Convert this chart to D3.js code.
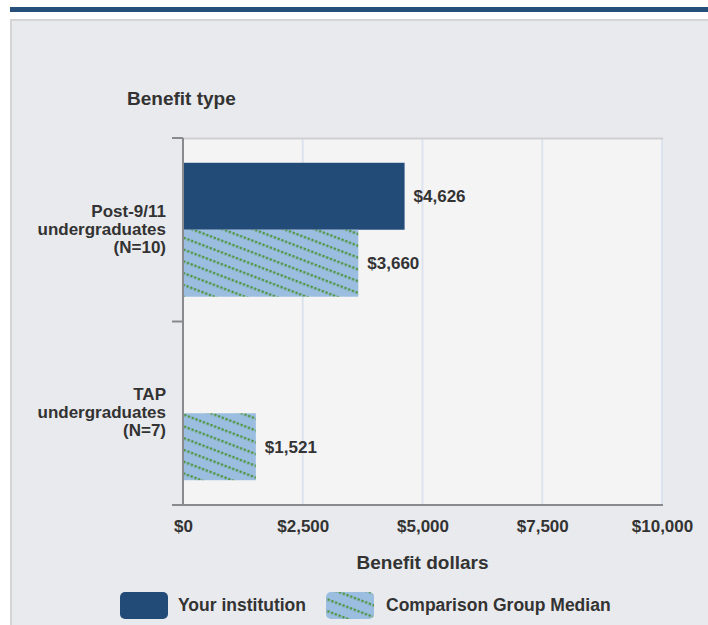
<!DOCTYPE html>
<html><head><meta charset="utf-8">
<script src="https://cdn.jsdelivr.net/npm/d3@7"></script>
<style>
html,body{margin:0;padding:0;background:#fff;}
svg{display:block;font-family:"Liberation Sans",Arial,sans-serif;}
</style></head>
<body>
<svg id="c" width="708" height="625"></svg>
<script>
const categories = ["Post-9/11 undergraduates (N=10)", "TAP undergraduates (N=7)"];
const categoryLines = [["Post-9/11","undergraduates","(N=10)"],["TAP","undergraduates","(N=7)"]];
const seriesNames = ["Your institution", "Comparison Group Median"];
const yourInstitution = [4626, null];
const comparisonMedian = [3660, 1521];
const xTicks = [0, 2500, 5000, 7500, 10000];

(function(){
const svg = d3.select("#c");
const defs = svg.append("defs");
const pat = defs.append("pattern").attr("id","hatch").attr("patternUnits","userSpaceOnUse")
  .attr("width",4).attr("height",11).attr("patternTransform","rotate(21)");
pat.append("rect").attr("width",4).attr("height",11).attr("fill","#9bbde0");
pat.append("rect").attr("x",0.6).attr("y",1).attr("width",2.2).attr("height",2.4).attr("fill","#4a9338");

// top bar
svg.append("rect").attr("x",10).attr("y",7).attr("width",698).attr("height",5).attr("fill","#264f79");
// panel
svg.append("rect").attr("x",10).attr("y",19).attr("width",700).attr("height",610).attr("fill","#e9eaee");
svg.append("rect").attr("x",10).attr("y",19).attr("width",700).attr("height",2).attr("fill","#d5d5d6");
svg.append("rect").attr("x",10).attr("y",19).attr("width",2).attr("height",610).attr("fill","#d5d5d6");

const pL = 183, pR = 662, pT = 138, pB = 505;
const x = d3.scaleLinear().domain([0,10000]).range([pL,pR]);
const y = d3.scaleBand().domain(categories).range([pT,pB]);
const inner = d3.scaleBand().domain(seriesNames).range([y.bandwidth()*0.135, y.bandwidth()*0.865]);

// plot bg
svg.append("rect").attr("x",pL).attr("y",pT).attr("width",pR-pL).attr("height",pB-pT).attr("fill","#f4f4f5");
// grid
svg.append("g").selectAll("line").data(xTicks.slice(1)).join("line")
  .attr("x1",d=>x(d)).attr("x2",d=>x(d)).attr("y1",pT).attr("y2",pB)
  .attr("stroke","#dde3ee").attr("stroke-width",2);
svg.append("line").attr("x1",pL).attr("x2",pR+1).attr("y1",pT+0.5).attr("y2",pT+0.5).attr("stroke","#cfcfd2").attr("stroke-width",2);

const data = [];
categories.forEach((c,i)=>{
  data.push({cat:c, s:seriesNames[0], v:yourInstitution[i]});
  data.push({cat:c, s:seriesNames[1], v:comparisonMedian[i]});
});
const valid = data.filter(d=>d.v!=null);
svg.append("g").selectAll("rect").data(valid).join("rect")
  .attr("x",x(0)).attr("y",d=>y(d.cat)+inner(d.s))
  .attr("width",d=>x(d.v)-x(0)).attr("height",inner.bandwidth())
  .attr("fill",d=>d.s===seriesNames[0]?"#234b77":"url(#hatch)");
svg.append("g").selectAll("text").data(valid).join("text")
  .attr("x",d=>x(d.v)+9).attr("y",d=>y(d.cat)+inner(d.s)+inner.bandwidth()/2)
  .attr("dy","0.35em").attr("font-size",17).attr("font-weight","bold").attr("fill","#333")
  .text(d=>"$"+d3.format(",")(d.v));

// axes
const xAxis = svg.append("g").attr("transform",`translate(0,${pB})`)
  .call(d3.axisBottom(x).tickValues(xTicks).tickSize(0).tickPadding(15).tickFormat(d=>"$"+d3.format(",")(d)));
xAxis.select(".domain").remove();
xAxis.append("line").attr("x1",172).attr("x2",pR+1).attr("y1",0).attr("y2",0).attr("stroke","#8a8a8d").attr("stroke-width",2);
xAxis.selectAll("text").attr("font-size",17).attr("font-weight","bold").attr("fill","#333").attr("font-family","Liberation Sans, Arial, sans-serif");

const yAxis = svg.append("g").attr("transform",`translate(${pL},0)`);
yAxis.append("line").attr("x1",0).attr("x2",0).attr("y1",pT).attr("y2",pB).attr("stroke","#8a8a8d").attr("stroke-width",2);
const yTickPos = [pT, ...categories.slice(1).map(c=>y(c)), pB];
yAxis.selectAll(".tk").data(yTickPos).join("line").attr("class","tk")
  .attr("x1",-11).attr("x2",0).attr("y1",d=>d).attr("y2",d=>d).attr("stroke","#8a8a8d").attr("stroke-width",2);

const lh = 18;
const catG = svg.append("g").selectAll("text").data(categories).join("text")
  .attr("x",166).attr("y",c=>y(c)+y.bandwidth()/2 - 1)
  .attr("text-anchor","end").attr("font-size",17).attr("font-weight","bold").attr("fill","#333");
catG.each(function(c,i){
  const lines = categoryLines[i];
  const t = d3.select(this);
  lines.forEach((l,j)=>{
    t.append("tspan").attr("x",166).attr("dy", j===0? (-(lines.length-1)/2*lh+6)+"px" : lh+"px").text(l);
  });
});

svg.append("text").attr("x",127).attr("y",105).attr("font-size",19).attr("font-weight","bold").attr("fill","#333").text("Benefit type");
svg.append("text").attr("x",(pL+pR)/2).attr("y",569).attr("text-anchor","middle").attr("font-size",19).attr("font-weight","bold").attr("fill","#333").text("Benefit dollars");

// legend
const leg = [{n:seriesNames[0],x:120,tx:178,f:"#234b77"},{n:seriesNames[1],x:326,tx:386,f:"url(#hatch)"}];
const lg = svg.append("g").selectAll("g").data(leg).join("g");
lg.append("rect").attr("x",d=>d.x).attr("y",592).attr("width",48).attr("height",27).attr("rx",5).attr("fill",d=>d.f);
lg.append("text").attr("x",d=>d.tx).attr("y",605).attr("dy","0.35em").attr("font-size",17.5).attr("font-weight","bold").attr("fill","#333").text(d=>d.n);
})();
</script>
</body></html>
